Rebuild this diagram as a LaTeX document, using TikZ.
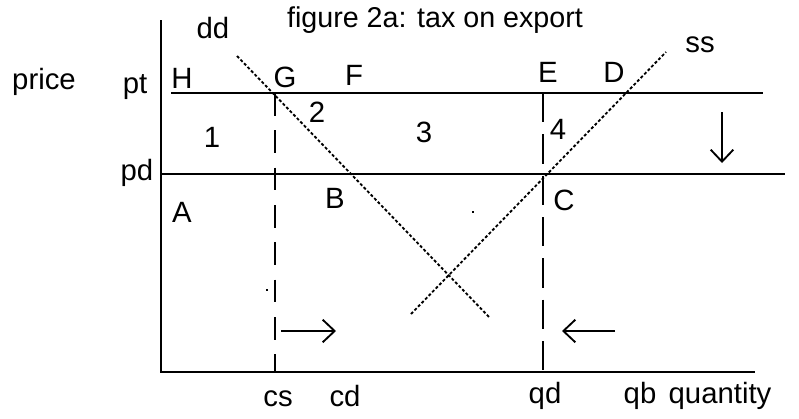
\documentclass[tikz,border=0pt]{standalone}
\usepackage{fontspec}
\setmainfont{Liberation Sans}
\usetikzlibrary{arrows.meta}
\tikzset{
  axis/.style={line width=2.2pt},
  level/.style={line width=2.2pt},
  curve/.style={line width=1.4pt, dash pattern=on 2.2pt off 1.6pt},
  guide/.style={line width=1.6pt, dash pattern=on 17pt off 11pt},
  guidefat/.style={line width=2pt, dash pattern=on 22pt off 9pt},
  move/.style={-{Straight Barb[length=9pt,width=17pt,line width=1.4pt]}, line width=1.7pt},
  lbl/.style={font=\fontsize{22}{24}\selectfont, inner sep=0pt},
  tick/.style={lbl, anchor=base},
  ttl/.style={font=\fontsize{21.5}{24}\selectfont, inner sep=0pt},
  speck/.style={fill=black, inner sep=0pt, minimum size=2.2pt},
}
\begin{document}
\begin{tikzpicture}[x=0.75pt, y=-0.75pt]
\useasboundingbox (0,0) rectangle (799,418);

% ---------------- axes ----------------
\coordinate (top) at (161,20);
\coordinate (origin) at (161,372);
\coordinate (qend) at (755,372);
\draw[axis] (top) -- (origin) -- (qend);
\node[lbl] (price) at (44,82) {price};
\node[tick] (quantity) at (720,403) {quantity};

% ---------------- price levels ----------------
\coordinate (ptL) at (171,93);
\coordinate (ptR) at (763,93);
\coordinate (pdL) at (161,174);
\coordinate (pdR) at (785,174);
\draw[level] (ptL) -- (ptR);
\draw[level] (pdL) -- (pdR);
\node[tick] (pt) at (135,93) {pt};
\node[tick] (pd) at (137,180) {pd};

% ---------------- demand and supply ----------------
\coordinate (ddA) at (237,56);
\coordinate (ddB) at (490,318);
\coordinate (ssA) at (411,314);
\coordinate (ssB) at (666,52);
\draw[curve] (ddA) -- (ddB);
\draw[curve] (ssA) -- (ssB);
\node[tick] (dd) at (213,38) {dd};
\node[tick] (ss) at (700,52) {ss};

% ---------------- quantities ----------------
\coordinate (csT) at (275,93);
\coordinate (csB) at (275,372);
\coordinate (qdT) at (543,93);
\coordinate (qdB) at (543,372);
\draw[guide] (csT) -- (csB);
\draw[guidefat] (qdT) -- (qdB);
\node[tick] (cs) at (278,406) {cs};
\node[tick] (cd) at (345,406) {cd};
\node[tick] (qd) at (545,403) {qd};
\node[tick] (qb) at (640,403) {qb};

% ---------------- points and areas ----------------
\node[tick] (H) at (182,88) {H};
\node[tick] (G) at (285,87) {G};
\node[tick] (F) at (354,85) {F};
\node[tick] (E) at (548,82) {E};
\node[tick] (D) at (614,82) {D};
\node[tick] (A) at (182,222) {A};
\node[tick] (B) at (335,208) {B};
\node[tick] (C) at (564,210) {C};
\node[tick] (one) at (212,147) {1};
\node[tick] (two) at (317,122) {2};
\node[tick] (three) at (424,142) {3};
\node[tick] (four) at (558,139) {4};
\node[speck] (s1) at (473,212) {};
\node[speck] (s2) at (267,290) {};

% ---------------- shifts ----------------
\coordinate (rA) at (281,331);
\coordinate (rB) at (336,331);
\coordinate (lA) at (615,331);
\coordinate (lB) at (562,331);
\coordinate (dA) at (722,112);
\coordinate (dB) at (722,163);
\draw[move] (rA) -- (rB);
\draw[move] (lA) -- (lB);
\draw[move] (dA) -- (dB);

% ---------------- title ----------------
\node[ttl] (title) at (435,20) {figure 2a: tax on export};

\end{tikzpicture}
\end{document}
